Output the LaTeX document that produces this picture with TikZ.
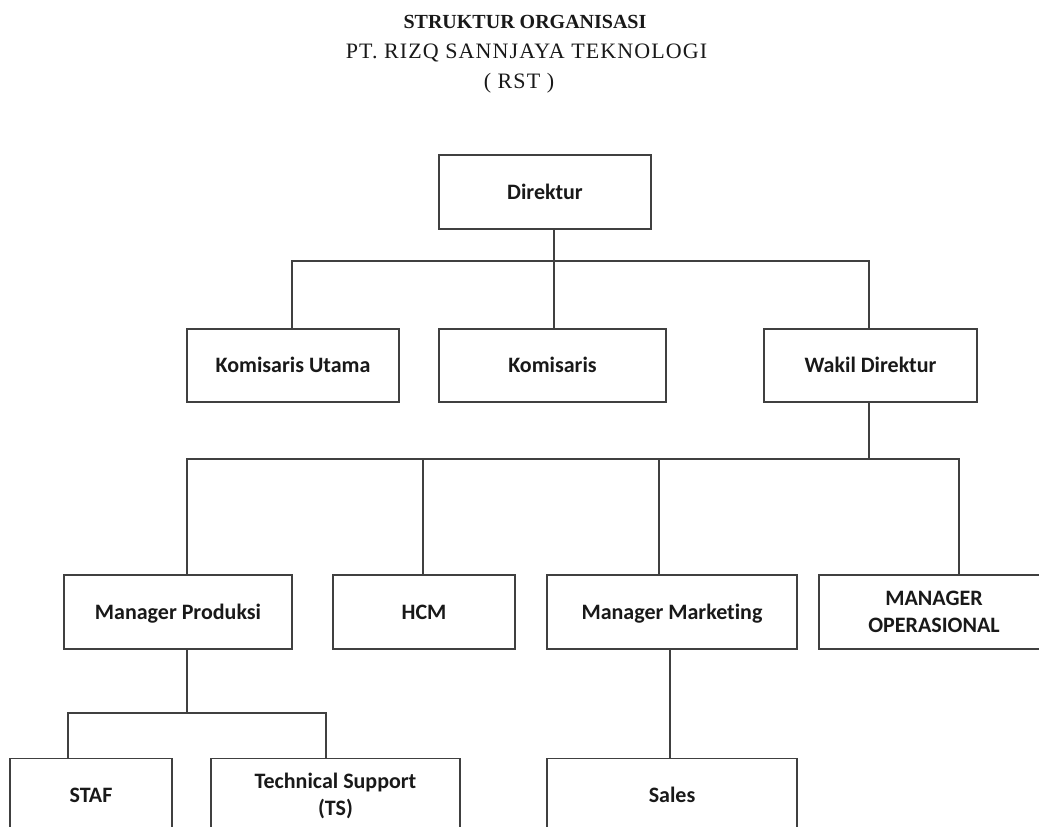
\documentclass[tikz,border=0pt]{standalone}
\usepackage{fontspec}
\setmainfont{Liberation Serif}
\newfontfamily\boxfont[Ligatures=NoCommon]{Carlito}
\newfontfamily\spacedserif[LetterSpace=5]{Liberation Serif}
\begin{document}
\begin{tikzpicture}[x=1pt,y=-1pt,
  orgbox/.style={draw=black!75, line width=1.3pt, fill=white, inner sep=0pt, outer sep=0pt,
    minimum height=74pt, font=\boxfont\fontsize{22}{27}\selectfont\bfseries,
    text=black!90, align=center},
  oneline/.style={text height=14.2pt, text depth=0pt},
  conn/.style={draw=black!75, line width=1.3pt},
  titletext/.style={inner sep=0pt, anchor=base, text=black!90}
]
\clip (0,0) rectangle (1039,827);
\fill[white] (0,0) rectangle (1039,827);

% title
\node[titletext, font=\fontsize{20}{24}\selectfont\bfseries] (t1) at (525,28) {STRUKTUR ORGANISASI};
\node[titletext, font=\spacedserif\fontsize{22}{26}\selectfont] (t2) at (526.5,58) {PT. RIZQ SANNJAYA TEKNOLOGI};
\node[titletext, font=\spacedserif\fontsize{22}{26}\selectfont] (t3) at (519,88) {( RST )};

% boxes
\node[orgbox, oneline, minimum width=212pt] (dir) at (545,192) {Direktur};
\node[orgbox, oneline, minimum width=212pt, minimum height=73pt] (ku) at (293,365.5) {Komisaris Utama};
\node[orgbox, oneline, minimum width=227pt, minimum height=73pt] (kom) at (552.5,365.5) {Komisaris};
\node[orgbox, oneline, minimum width=213pt, minimum height=73pt] (wd) at (870.5,365.5) {Wakil Direktur};

\node[orgbox, oneline, minimum width=228pt] (mp) at (178,612) {Manager Produksi};
\node[orgbox, oneline, minimum width=182pt] (hcm) at (424,612) {HCM};
\node[orgbox, oneline, minimum width=250pt] (mm) at (672,612) {Manager Marketing};
\node[orgbox, minimum width=230pt] (mo) at (934,612) {MANAGER\\OPERASIONAL};

\node[orgbox, oneline, minimum width=162pt] (staf) at (91,795.5) {STAF};
\node[orgbox, minimum width=249pt] (ts) at (335.5,795.5) {Technical Support\\(TS)};
\node[orgbox, oneline, minimum width=250pt] (sales) at (672,795.5) {Sales};

% connector coordinates
\coordinate (d1) at (554,0);
\coordinate (b1L) at (292,261);
\coordinate (b1R) at (869,261);
\coordinate (b2L) at (187,459);
\coordinate (b2R) at (959,459);
\coordinate (c2) at (423,459);
\coordinate (c3) at (659,459);
\coordinate (b3L) at (68,713);
\coordinate (b3R) at (326,713);
\coordinate (c4) at (670,0);

% connectors
\draw[conn] (dir.south -| d1) -- (kom.north -| d1);
\draw[conn] (ku.north -| b1L) |- (b1R) -- (wd.north -| b1R);
\draw[conn] (wd.south -| b1R) -- (b1R |- b2L);
\draw[conn] (mp.north -| b2L) |- (b2R) -- (mo.north -| b2R);
\draw[conn] (c2) -- (hcm.north -| c2);
\draw[conn] (c3) -- (mm.north -| c3);
\draw[conn] (mp.south -| b2L) -- (b2L |- b3L);
\draw[conn] (staf.north -| b3L) |- (b3R) -- (ts.north -| b3R);
\draw[conn] (mm.south -| c4) -- (sales.north -| c4);
\end{tikzpicture}
\end{document}
